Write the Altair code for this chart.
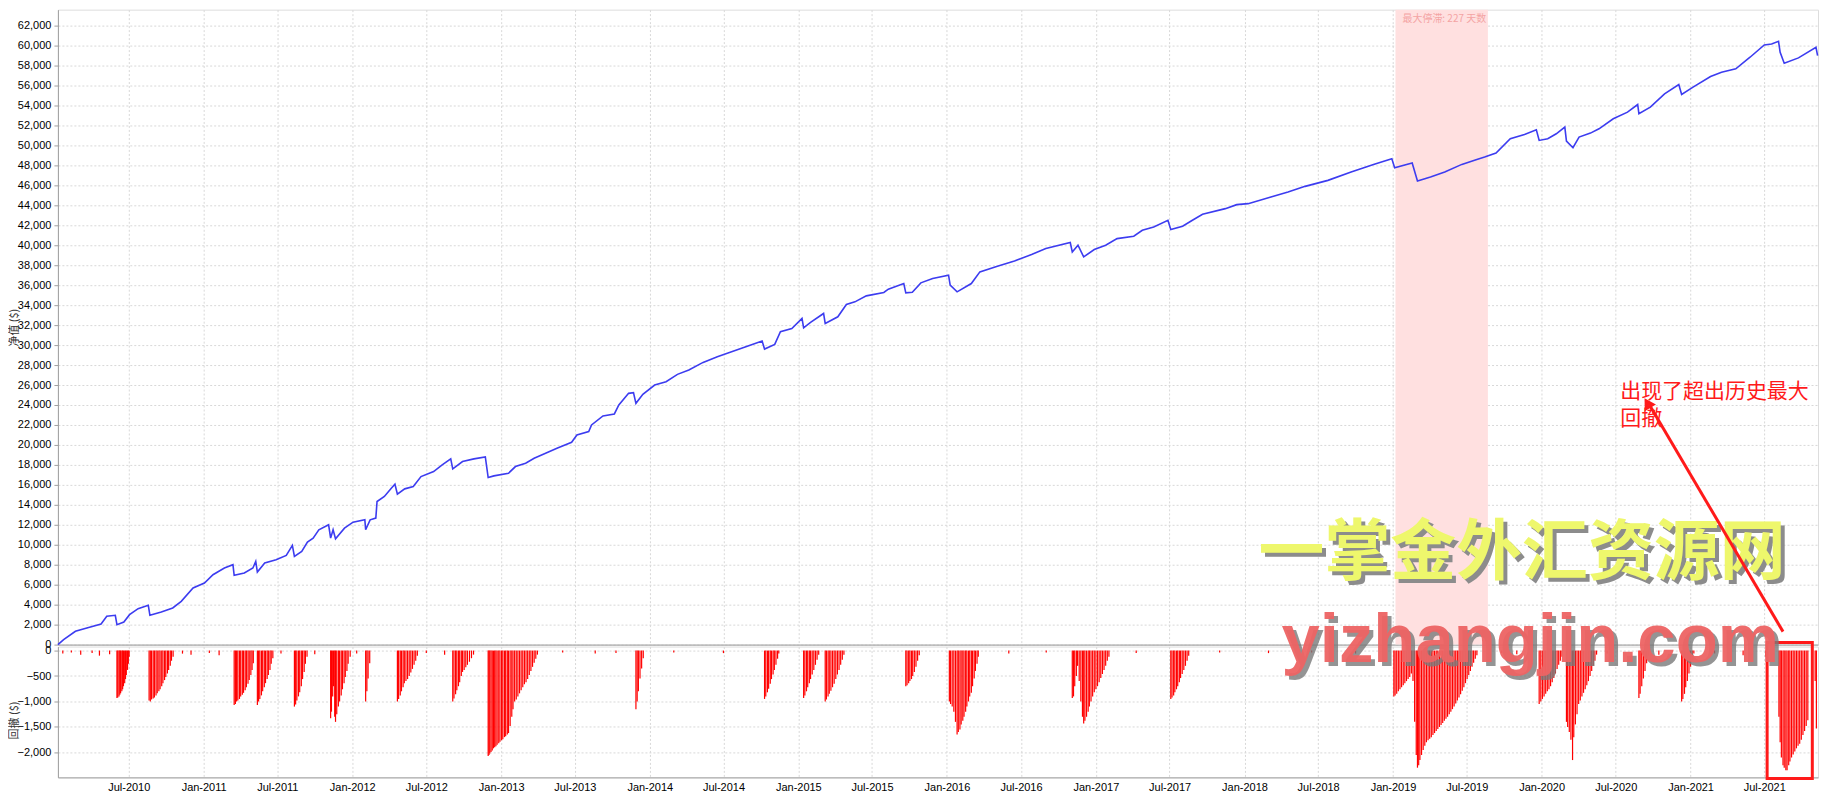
import altair as alt
import pandas as pd

# ---------------- data ----------------
eq_dates = [
    "2010-01-08","2010-01-22","2010-02-20","2010-03-20","2010-04-24","2010-05-08","2010-05-29","2010-06-02",
    "2010-06-19","2010-07-03","2010-07-24","2010-08-18","2010-08-22","2010-09-19","2010-10-17","2010-11-07",
    "2010-12-06","2011-01-03","2011-01-24","2011-02-21","2011-03-14","2011-03-17","2011-04-11","2011-05-02",
    "2011-05-09","2011-05-13","2011-05-31","2011-06-28","2011-07-23","2011-08-07","2011-08-12","2011-08-30",
    "2011-09-13","2011-09-27","2011-10-11","2011-11-04","2011-11-09","2011-11-15","2011-11-21","2011-12-13",
    "2012-01-03","2012-02-01","2012-02-03","2012-02-14","2012-02-28","2012-03-02","2012-03-20","2012-04-06",
    "2012-04-15","2012-04-21","2012-05-09","2012-05-30","2012-06-18","2012-07-19","2012-08-09","2012-08-30",
    "2012-09-04","2012-09-28","2012-10-26","2012-11-23","2012-11-30","2012-12-14","2013-01-19","2013-02-05",
    "2013-03-02","2013-03-23","2013-04-20","2013-05-18","2013-06-23","2013-07-06","2013-08-04","2013-08-11",
    "2013-09-08","2013-10-06","2013-10-17","2013-11-10","2013-11-22","2013-11-28","2013-12-15","2014-01-13",
    "2014-02-10","2014-03-10","2014-04-07","2014-05-12","2014-06-16","2014-07-21","2014-08-25","2014-10-04",
    "2014-10-10","2014-11-04","2014-11-18","2014-12-16","2015-01-10","2015-01-14","2015-01-31","2015-03-04",
    "2015-03-08","2015-04-08","2015-04-29","2015-05-20","2015-06-17","2015-07-30","2015-08-10","2015-09-17",
    "2015-09-22","2015-10-08","2015-10-29","2015-11-27","2016-01-05","2016-01-09","2016-01-26","2016-03-01",
    "2016-03-22","2016-05-04","2016-06-15","2016-07-27","2016-08-31","2016-10-30","2016-11-04","2016-11-18",
    "2016-12-02","2016-12-28","2017-01-25","2017-02-22","2017-04-04","2017-04-25","2017-05-23","2017-06-27",
    "2017-07-04","2017-08-02","2017-08-23","2017-09-20","2017-11-15","2017-12-13","2018-01-10","2018-03-07",
    "2018-04-18","2018-05-30","2018-07-25","2018-09-20","2018-11-14","2018-12-29","2019-01-05","2019-02-17",
    "2019-03-02","2019-04-03","2019-05-08","2019-06-19","2019-07-24","2019-08-14","2019-09-11","2019-10-16",
    "2019-11-20","2019-12-19","2019-12-26","2020-01-16","2020-02-06","2020-02-27","2020-03-02","2020-03-18",
    "2020-04-02","2020-04-30","2020-05-21","2020-06-25","2020-07-30","2020-08-24","2020-08-27","2020-09-24",
    "2020-10-29","2020-12-03","2020-12-10","2021-01-07","2021-02-19","2021-03-18","2021-04-22","2021-05-27",
    "2021-07-01","2021-07-19","2021-08-05","2021-08-09","2021-08-19","2021-09-23","2021-11-05","2021-11-09",
]
eq_values = [
    0, 500, 1333, 1667, 2067, 2833, 2933, 2000,
    2267, 3000, 3600, 3933, 2933, 3267, 3667, 4333,
    5667, 6167, 7000, 7667, 8000, 6933, 7167, 7667,
    8333, 7267, 8167, 8500, 8933, 9933, 8833, 9333,
    10267, 10667, 11500, 12000, 10667, 11500, 10600, 11667,
    12267, 12500, 11500, 12500, 12667, 14333, 14833, 15667,
    16067, 15067, 15600, 15833, 16833, 17333, 18000, 18600,
    17600, 18333, 18600, 18800, 16733, 16900, 17167, 17833,
    18167, 18667, 19167, 19667, 20267, 21000, 21333, 22000,
    22900, 23100, 24000, 25167, 25233, 24167, 25067, 26000,
    26333, 27067, 27500, 28267, 28833, 29333, 29833, 30400,
    29600, 30067, 31333, 31667, 32667, 31733, 32267, 33167,
    32167, 32833, 34067, 34333, 34933, 35267, 35600, 36167,
    35233, 35300, 36233, 36667, 37000, 36000, 35333, 36167,
    37333, 37900, 38433, 39067, 39667, 40267, 39333, 40000,
    38833, 39567, 40000, 40667, 40900, 41500, 41833, 42500,
    41567, 41900, 42433, 43100, 43667, 44067, 44167, 44833,
    45333, 45900, 46500, 47333, 48100, 48667, 47767, 48233,
    46433, 46833, 47333, 48100, 48567, 48833, 49233, 50667,
    51100, 51567, 50500, 50667, 51167, 51833, 50433, 49767,
    50833, 51233, 51667, 52667, 53333, 54100, 53167, 53833,
    55167, 56100, 55100, 55833, 56900, 57333, 57667, 58833,
    60067, 60167, 60433, 59333, 58233, 58767, 59833, 59000,
]

# drawdown bars (date, value)
dd_pairs = [
    # small scattered
    ("2010-01-20", -60), ("2010-02-10", -40), ("2010-03-05", -80), ("2010-04-02", -50),
    ("2010-04-20", -100), ("2010-05-15", -70), ("2010-11-10", -60), ("2010-12-01", -80),
    ("2011-01-15", -50), ("2011-02-08", -90), ("2011-07-10", -60), ("2011-10-01", -70),
    ("2012-01-12", -60), ("2012-07-01", -50), ("2012-08-15", -80), ("2013-06-01", -40),
    ("2013-08-20", -60), ("2013-10-10", -50), ("2014-03-01", -40), ("2014-07-01", -50),
    ("2016-06-01", -60), ("2016-09-01", -40), ("2017-04-10", -50), ("2017-11-01", -40),
    ("2018-03-01", -50), ("2018-06-15", -40), ("2018-10-01", -60), ("2019-09-25", -50),
    ("2019-11-01", -70), ("2020-06-10", -60), ("2020-10-15", -80), ("2021-03-01", -60),
    ("2021-05-10", -90), ("2021-07-05", -120),
    # 2010 Jun
    ("2010-06-02", -930), ("2010-06-04", -920), ("2010-06-07", -900), ("2010-06-09", -870),
    ("2010-06-11", -840), ("2010-06-14", -800), ("2010-06-16", -760), ("2010-06-18", -700),
    ("2010-06-21", -640), ("2010-06-23", -560), ("2010-06-25", -480), ("2010-06-28", -380),
    ("2010-06-30", -260), ("2010-07-02", -120),
    # 2010 Aug-Oct
    ("2010-08-20", -980), ("2010-08-23", -1000), ("2010-08-26", -960), ("2010-08-30", -940),
    ("2010-09-02", -920), ("2010-09-06", -880), ("2010-09-09", -840), ("2010-09-13", -800),
    ("2010-09-16", -760), ("2010-09-20", -700), ("2010-09-23", -640), ("2010-09-27", -580),
    ("2010-09-30", -520), ("2010-10-04", -450), ("2010-10-07", -380), ("2010-10-11", -300),
    ("2010-10-14", -200), ("2010-10-18", -120),
    # 2011 Mar-May
    ("2011-03-17", -1070), ("2011-03-20", -1050), ("2011-03-23", -1000), ("2011-03-26", -980),
    ("2011-03-30", -950), ("2011-04-02", -900), ("2011-04-06", -870), ("2011-04-09", -830),
    ("2011-04-13", -780), ("2011-04-16", -720), ("2011-04-20", -650), ("2011-04-23", -580),
    ("2011-04-27", -480), ("2011-04-30", -380), ("2011-05-03", -250),
    # 2011 May-Jun
    ("2011-05-13", -1070), ("2011-05-16", -1000), ("2011-05-19", -950), ("2011-05-23", -880),
    ("2011-05-26", -800), ("2011-05-30", -720), ("2011-06-02", -640), ("2011-06-06", -560),
    ("2011-06-09", -480), ("2011-06-13", -380), ("2011-06-16", -260), ("2011-06-20", -150),
    # 2011 Aug-Sep
    ("2011-08-12", -1100), ("2011-08-15", -1060), ("2011-08-18", -980), ("2011-08-22", -900),
    ("2011-08-25", -820), ("2011-08-29", -700), ("2011-09-01", -560), ("2011-09-05", -420),
    ("2011-09-08", -260), ("2011-09-12", -120),
    # 2011 Nov-Dec
    ("2011-11-09", -1330), ("2011-11-11", -1200), ("2011-11-14", -900), ("2011-11-16", -700),
    ("2011-11-19", -1300), ("2011-11-21", -1400), ("2011-11-24", -1250), ("2011-11-28", -1100),
    ("2011-12-01", -1000), ("2011-12-05", -880), ("2011-12-08", -760), ("2011-12-12", -640),
    ("2011-12-15", -520), ("2011-12-19", -400), ("2011-12-22", -260), ("2011-12-27", -120),
    # 2012 Feb
    ("2012-02-03", -1000), ("2012-02-06", -800), ("2012-02-09", -550), ("2012-02-13", -250),
    # 2012 Apr-Jun
    ("2012-04-21", -1000), ("2012-04-24", -950), ("2012-04-28", -880), ("2012-05-01", -800),
    ("2012-05-05", -720), ("2012-05-08", -640), ("2012-05-12", -600), ("2012-05-16", -560),
    ("2012-05-20", -500), ("2012-05-24", -430), ("2012-05-28", -360), ("2012-06-01", -280),
    ("2012-06-05", -200), ("2012-06-09", -100),
    # 2012 Sep-Oct
    ("2012-09-04", -1000), ("2012-09-07", -940), ("2012-09-11", -860), ("2012-09-14", -780),
    ("2012-09-18", -700), ("2012-09-21", -620), ("2012-09-25", -500), ("2012-09-28", -420),
    ("2012-10-02", -380), ("2012-10-06", -330), ("2012-10-10", -280), ("2012-10-15", -220),
    ("2012-10-20", -150), ("2012-10-25", -80),
    # 2012 Nov - 2013 Apr
    ("2012-11-30", -2070), ("2012-12-02", -2050), ("2012-12-04", -2020), ("2012-12-07", -1990),
    ("2012-12-10", -1960), ("2012-12-13", -1920), ("2012-12-16", -1900), ("2012-12-19", -1880),
    ("2012-12-22", -1850), ("2012-12-26", -1820), ("2012-12-29", -1790), ("2013-01-02", -1760),
    ("2013-01-05", -1740), ("2013-01-09", -1700), ("2013-01-12", -1680), ("2013-01-16", -1650),
    ("2013-01-19", -1620), ("2013-01-23", -1480), ("2013-01-27", -1300), ("2013-01-30", -1150),
    ("2013-02-03", -1000), ("2013-02-07", -960), ("2013-02-11", -900), ("2013-02-15", -840),
    ("2013-02-19", -780), ("2013-02-23", -720), ("2013-02-27", -660), ("2013-03-03", -620),
    ("2013-03-07", -560), ("2013-03-11", -480), ("2013-03-15", -400), ("2013-03-19", -320),
    ("2013-03-23", -240), ("2013-03-27", -160), ("2013-03-31", -80),
    # 2013 Nov-Dec
    ("2013-11-28", -1150), ("2013-12-01", -1000), ("2013-12-04", -800), ("2013-12-08", -550),
    ("2013-12-12", -350), ("2013-12-16", -150),
    # 2014 Oct-Nov
    ("2014-10-10", -950), ("2014-10-13", -900), ("2014-10-17", -820), ("2014-10-20", -750),
    ("2014-10-24", -650), ("2014-10-27", -560), ("2014-10-31", -470), ("2014-11-03", -380),
    ("2014-11-07", -280), ("2014-11-11", -160), ("2014-11-14", -60),
    # 2015 Jan-Feb
    ("2015-01-14", -930), ("2015-01-17", -880), ("2015-01-21", -800), ("2015-01-24", -720),
    ("2015-01-28", -640), ("2015-01-31", -560), ("2015-02-04", -470), ("2015-02-08", -380),
    ("2015-02-12", -280), ("2015-02-16", -180), ("2015-02-20", -80),
    # 2015 Mar-Apr
    ("2015-03-08", -1000), ("2015-03-11", -960), ("2015-03-15", -900), ("2015-03-18", -850),
    ("2015-03-22", -790), ("2015-03-26", -720), ("2015-03-30", -650), ("2015-04-03", -560),
    ("2015-04-07", -470), ("2015-04-11", -380), ("2015-04-15", -280), ("2015-04-19", -180),
    ("2015-04-23", -80),
    # 2015 Sep-Oct
    ("2015-09-22", -700), ("2015-09-25", -680), ("2015-09-29", -640), ("2015-10-02", -600),
    ("2015-10-06", -560), ("2015-10-09", -500), ("2015-10-13", -420), ("2015-10-17", -320),
    ("2015-10-21", -200), ("2015-10-25", -90),
    # 2016 Jan-Mar
    ("2016-01-07", -1000), ("2016-01-10", -1050), ("2016-01-14", -1100), ("2016-01-18", -1200),
    ("2016-01-22", -1400), ("2016-01-26", -1650), ("2016-01-29", -1600), ("2016-02-02", -1550),
    ("2016-02-05", -1450), ("2016-02-09", -1380), ("2016-02-12", -1300), ("2016-02-16", -1200),
    ("2016-02-19", -1100), ("2016-02-23", -1000), ("2016-02-26", -900), ("2016-03-01", -830),
    ("2016-03-04", -700), ("2016-03-08", -550), ("2016-03-11", -400), ("2016-03-15", -260),
    ("2016-03-18", -120),
    # 2016 Nov - 2017 Feb
    ("2016-11-04", -930), ("2016-11-07", -900), ("2016-11-10", -700), ("2016-11-14", -500),
    ("2016-11-17", -300), ("2016-11-21", -600), ("2016-11-25", -1000), ("2016-11-29", -1300),
    ("2016-12-02", -1430), ("2016-12-05", -1380), ("2016-12-09", -1300), ("2016-12-13", -1200),
    ("2016-12-16", -1100), ("2016-12-20", -1000), ("2016-12-24", -900), ("2016-12-28", -820),
    ("2017-01-01", -760), ("2017-01-05", -700), ("2017-01-09", -620), ("2017-01-13", -540),
    ("2017-01-17", -460), ("2017-01-21", -380), ("2017-01-25", -300), ("2017-01-29", -200),
    ("2017-02-02", -120),
    # 2017 Jul-Aug
    ("2017-07-04", -950), ("2017-07-07", -920), ("2017-07-11", -880), ("2017-07-14", -820),
    ("2017-07-18", -760), ("2017-07-21", -700), ("2017-07-25", -620), ("2017-07-28", -540),
    ("2017-08-01", -460), ("2017-08-05", -380), ("2017-08-09", -300), ("2017-08-13", -200),
    ("2017-08-17", -100),
    # 2019 Jan-Jul
    ("2019-01-03", -900), ("2019-01-06", -880), ("2019-01-10", -850), ("2019-01-14", -800),
    ("2019-01-18", -760), ("2019-01-22", -720), ("2019-01-26", -680), ("2019-01-30", -640),
    ("2019-02-03", -600), ("2019-02-07", -560), ("2019-02-11", -520), ("2019-02-15", -450),
    ("2019-02-19", -600), ("2019-02-23", -1400), ("2019-02-27", -2050), ("2019-03-02", -2300),
    ("2019-03-05", -2250), ("2019-03-08", -2150), ("2019-03-12", -2050), ("2019-03-16", -1950),
    ("2019-03-20", -1870), ("2019-03-24", -1800), ("2019-03-28", -1760), ("2019-04-01", -1730),
    ("2019-04-05", -1700), ("2019-04-09", -1660), ("2019-04-13", -1620), ("2019-04-17", -1580),
    ("2019-04-21", -1540), ("2019-04-25", -1500), ("2019-04-29", -1460), ("2019-05-03", -1420),
    ("2019-05-07", -1380), ("2019-05-11", -1340), ("2019-05-15", -1300), ("2019-05-19", -1250),
    ("2019-05-23", -1200), ("2019-05-27", -1150), ("2019-05-31", -1100), ("2019-06-04", -1040),
    ("2019-06-08", -980), ("2019-06-12", -920), ("2019-06-16", -860), ("2019-06-20", -790),
    ("2019-06-24", -720), ("2019-06-28", -640), ("2019-07-02", -560), ("2019-07-06", -480),
    ("2019-07-10", -400), ("2019-07-14", -320), ("2019-07-18", -240), ("2019-07-22", -160),
    ("2019-07-26", -90),
    # 2019 Dec - 2020 May
    ("2019-12-26", -1050), ("2019-12-30", -1000), ("2020-01-03", -950), ("2020-01-07", -900),
    ("2020-01-11", -850), ("2020-01-15", -800), ("2020-01-19", -760), ("2020-01-23", -700),
    ("2020-01-27", -620), ("2020-01-31", -540), ("2020-02-04", -450), ("2020-02-08", -360),
    ("2020-02-12", -280), ("2020-02-16", -200), ("2020-02-20", -120), ("2020-03-02", -1400),
    ("2020-03-05", -1500), ("2020-03-09", -1600), ("2020-03-13", -1750), ("2020-03-17", -2150),
    ("2020-03-20", -1700), ("2020-03-24", -1450), ("2020-03-28", -1250), ("2020-04-01", -1050),
    ("2020-04-05", -980), ("2020-04-09", -900), ("2020-04-13", -830), ("2020-04-17", -760),
    ("2020-04-21", -680), ("2020-04-25", -600), ("2020-04-29", -500), ("2020-05-03", -400),
    ("2020-05-07", -300), ("2020-05-11", -200), ("2020-05-15", -80),
    # 2020 Aug-Sep
    ("2020-08-27", -930), ("2020-08-30", -850), ("2020-09-03", -700), ("2020-09-07", -550),
    ("2020-09-11", -400), ("2020-09-15", -250), ("2020-09-19", -100),
    # 2020 Dec - 2021 Jan
    ("2020-12-10", -1000), ("2020-12-13", -950), ("2020-12-17", -850), ("2020-12-20", -720),
    ("2020-12-24", -600), ("2020-12-28", -450), ("2021-01-01", -320), ("2021-01-05", -180),
    ("2021-01-09", -60),
    # 2021 Aug-Nov
    ("2021-08-06", -1300), ("2021-08-09", -1800), ("2021-08-12", -2100), ("2021-08-16", -2250),
    ("2021-08-19", -2300), ("2021-08-23", -2350), ("2021-08-26", -2350), ("2021-08-30", -2250),
    ("2021-09-02", -2180), ("2021-09-06", -2100), ("2021-09-10", -2040), ("2021-09-14", -1980),
    ("2021-09-18", -1920), ("2021-09-22", -1870), ("2021-09-26", -1830), ("2021-09-30", -1750),
    ("2021-10-04", -1660), ("2021-10-08", -1580), ("2021-10-12", -1480), ("2021-10-16", -1370),
    ("2021-11-03", -600), ("2021-11-06", -1530),
]
dd_dates = [d for d, _ in dd_pairs]
dd_values = [v for _, v in dd_pairs]

shade_start = ["2019-01-07"]
shade_end = ["2019-08-22"]
shade_label = ["最大停滞: 227 天数"]

x_ticks = [f"{y}-{m:02d}-01" for y in range(2010, 2022) for m in (1, 7)]
x_ticks = [t for t in x_ticks if "2010-01-08" < t < "2021-11-10"]

x_domain = ["2010-01-08", "2021-11-10"]
top_domain = [0, 63600]
bot_domain = [-2490, 78]
top_ticks = list(range(0, 62001, 2000))
bot_ticks = [0, -500, -1000, -1500, -2000]

eq = pd.DataFrame({"date": eq_dates, "value": eq_values})
dd = pd.DataFrame({"date": dd_dates, "value": dd_values})

W = 1763
TOP_H = 636
BOT_H = 131
GRID = dict(grid=True, gridColor="#d8d8d8", gridDash=[2, 2], gridWidth=1)
LAB = dict(labelFont="Liberation Sans", labelFontSize=11, labelColor="#000000",
           domainColor="#a0a0a0", tickColor="#a0a0a0")
YT = dict(titleFont="Noto Sans CJK SC", titleFontSize=11, titleFontWeight="normal",
          titleColor="#333333", titleAngle=270, titleAlign="center", titleBaseline="top",
          titleX=-49, tickSize=4, labelPadding=3)

xs = alt.Scale(domain=x_domain)
top_ax = alt.Axis(values=x_ticks, labels=False, ticks=False, title=None,
                  domainColor="#a0a0a0", **GRID)
top_ys = alt.Scale(domain=top_domain, nice=False, zero=False)
top_yax = alt.Axis(values=top_ticks, format=",.0f", title="净值 ($)", titleY=TOP_H / 2,
                   **GRID, **LAB, **YT)
bot_ys = alt.Scale(domain=bot_domain, nice=False, zero=False)
bot_yax = alt.Axis(values=bot_ticks, format=",.0f", title="回撤 ($)", titleY=BOT_H / 2 + 8,
                   **GRID, **LAB, **YT)
bot_ax = alt.Axis(values=x_ticks, format="%b-%Y", title=None, ticks=False, labelPadding=4,
                  labelFlush=False, **GRID, **LAB)


def xt(field):
    return alt.X(field, scale=xs, axis=top_ax)


def yt(field):
    return alt.Y(field, scale=top_ys, axis=top_yax)


def xb(field):
    return alt.X(field, scale=xs, axis=bot_ax)


def yb(field):
    return alt.Y(field, scale=bot_ys, axis=bot_yax)


shade = alt.Chart(pd.DataFrame({"s": shade_start, "e": shade_end})).mark_rect(
    color="#ffe0e0").encode(x=xt("s:T"), x2="e:T")
shade_txt = alt.Chart(pd.DataFrame({"s": shade_start, "t": shade_label})).mark_text(
    align="left", baseline="middle", dx=7, font="Noto Sans CJK SC", fontSize=10,
    color="#f4a4a4").encode(x=xt("s:T"), y=alt.value(9), text="t:N")

line = alt.Chart(eq).mark_line(color="#3c3cf0", strokeWidth=1.6).encode(
    x=xt("date:T"), y=yt("value:Q"))

# watermark + annotations (top panel)
wm1 = pd.DataFrame({"date": ["2019-11-14"], "value": [9100], "t": ["一掌金外汇资源网"]})
wm1_shadow = alt.Chart(wm1).mark_text(font="Noto Sans CJK SC", fontSize=66, fontWeight="bold",
                                      color="#8c8c8c", dx=4, dy=4, baseline="middle").encode(
    x=xt("date:T"), y=yt("value:Q"), text="t:N")
wm1_txt = alt.Chart(wm1).mark_text(font="Noto Sans CJK SC", fontSize=66, fontWeight="bold",
                                   color="#eef76c", baseline="middle").encode(
    x=xt("date:T"), y=yt("value:Q"), text="t:N")

note = pd.DataFrame({"date": ["2020-07-12", "2020-07-12"], "value": [25300, 22600],
                     "t": ["出现了超出历史最大", "回撤"]})
note_txt = alt.Chart(note).mark_text(font="Noto Sans CJK SC", fontSize=21, color="#ff1a1a",
                                     align="left", baseline="middle").encode(
    x=xt("date:T"), y=yt("value:Q"), text="t:N")

arrow = pd.DataFrame({"d1": ["2021-08-16"], "v1": [1300], "d2": ["2020-09-22"], "v2": [24000]})
arrow_line = alt.Chart(arrow).mark_rule(color="#ff1a1a", strokeWidth=3).encode(
    x=xt("d1:T"), y=yt("v1:Q"), x2="d2:T", y2="v2:Q")
tip = pd.DataFrame({"d": ["2020-09-17"], "v": [24200]})
arrow_tip = alt.Chart(tip).mark_point(shape="triangle-up", filled=True, size=170, opacity=1,
                                      color="#ff1a1a", angle=329).encode(
    x=xt("d:T"), y=yt("v:Q"))

top = alt.layer(shade, shade_txt, line, wm1_shadow, wm1_txt, note_txt, arrow_line, arrow_tip).properties(
    width=W, height=TOP_H)

# bottom panel
bars = alt.Chart(dd).mark_rule(color="#ff0000", strokeWidth=1.2).encode(
    x=xb("date:T"), y=yb("value:Q"), y2=alt.datum(0))

box = pd.DataFrame({"d1": ["2021-07-08"], "d2": ["2021-10-27"], "v1": [157], "v2": [-2510]})
box_mark = alt.Chart(box).mark_rect(filled=False, color="#ff1a1a", strokeWidth=3,
                                    clip=False).encode(
    x=xb("d1:T"), x2="d2:T", y=yb("v1:Q"), y2="v2:Q")

wm2 = pd.DataFrame({"date": ["2019-12-04"], "value": [180], "t": ["yizhangjin.com"]})
wm2_shadow = alt.Chart(wm2).mark_text(font="Liberation Sans", fontSize=69, fontWeight="bold",
                                      color="#7a7a7a", opacity=0.8, dx=4, dy=4, baseline="middle").encode(
    x=xb("date:T"), y=yb("value:Q"), text="t:N")
wm2_txt = alt.Chart(wm2).mark_text(font="Liberation Sans", fontSize=69, fontWeight="bold",
                                   color="#ee6464", opacity=0.95, baseline="middle").encode(
    x=xb("date:T"), y=yb("value:Q"), text="t:N")

bottom = alt.layer(bars, box_mark, wm2_shadow, wm2_txt).properties(width=W, height=BOT_H)

chart = alt.vconcat(top, bottom, spacing=2, bounds="flush").properties(
    padding={"left": 0, "top": 0, "right": 0, "bottom": 0},
).configure_view(stroke="#a0a0a0", strokeWidth=1).configure(background="#ffffff")

chart.save("out.html", embed_options={"renderer": "svg", "actions": False})
